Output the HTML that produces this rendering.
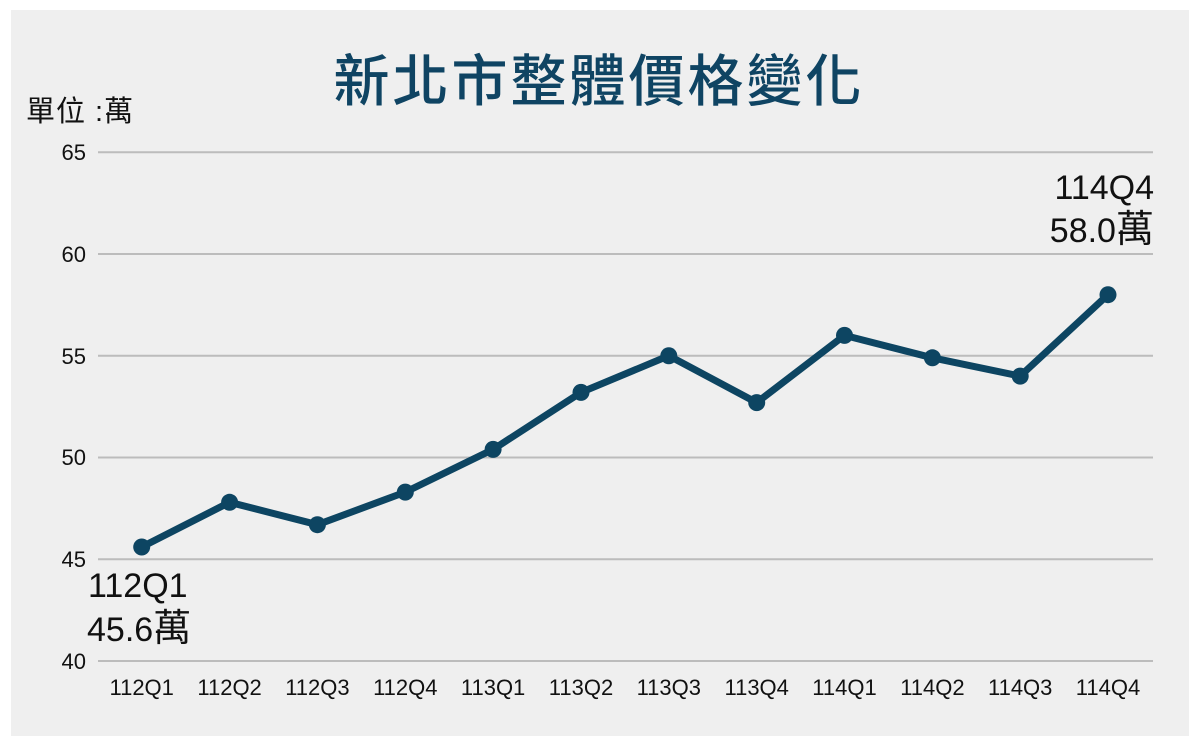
<!DOCTYPE html>
<html><head><meta charset="utf-8"><style>
html,body{margin:0;padding:0;background:#fff;}
svg{display:block;}
text{font-family:"Liberation Sans","Noto Sans CJK TC",sans-serif;fill:#111;}
</style></head><body>
<svg width="1200" height="746" viewBox="0 0 1200 746" xmlns="http://www.w3.org/2000/svg">
<rect x="0" y="0" width="1200" height="746" fill="#ffffff"/>
<rect x="11" y="10" width="1178" height="726" fill="#efefef"/>
<text x="599" y="101" text-anchor="middle" font-size="56" font-weight="500" letter-spacing="3" style="fill:#0f4463;font-family:'Noto Sans CJK TC','Noto Sans CJK SC',sans-serif;">新北市整體價格變化</text>
<text x="26" y="121" font-size="29" letter-spacing="1">單位 :萬</text>
<g stroke="#bcbcbc" stroke-width="2">
<line x1="98" y1="152.25" x2="1153" y2="152.25"/>
<line x1="98" y1="254" x2="1153" y2="254"/>
<line x1="98" y1="355.75" x2="1153" y2="355.75"/>
<line x1="98" y1="457.5" x2="1153" y2="457.5"/>
<line x1="98" y1="559.25" x2="1153" y2="559.25"/>
<line x1="98" y1="661" x2="1153" y2="661"/>
</g>
<g font-size="22" text-anchor="end">
<text x="86" y="160">65</text>
<text x="86" y="262">60</text>
<text x="86" y="364">55</text>
<text x="86" y="465">50</text>
<text x="86" y="567">45</text>
<text x="86" y="669">40</text>
</g>
<g font-size="22" text-anchor="middle">
<text x="141.7" y="695">112Q1</text>
<text x="229.6" y="695">112Q2</text>
<text x="317.4" y="695">112Q3</text>
<text x="405.3" y="695">112Q4</text>
<text x="493.1" y="695">113Q1</text>
<text x="581" y="695">113Q2</text>
<text x="668.8" y="695">113Q3</text>
<text x="756.7" y="695">113Q4</text>
<text x="844.5" y="695">114Q1</text>
<text x="932.4" y="695">114Q2</text>
<text x="1020.2" y="695">114Q3</text>
<text x="1108" y="695">114Q4</text>
</g>
<polyline fill="none" stroke="#0d4562" stroke-width="7" stroke-linejoin="round" points="141.7,547 229.6,502.3 317.4,524.7 405.3,492.1 493.1,449.4 581,392.4 668.8,355.75 756.7,402.6 844.5,335.4 932.4,357.8 1020.2,376.1 1108,294.7"/>
<g fill="#0d4562">
<circle cx="141.7" cy="547" r="8.5"/>
<circle cx="229.6" cy="502.3" r="8.5"/>
<circle cx="317.4" cy="524.7" r="8.5"/>
<circle cx="405.3" cy="492.1" r="8.5"/>
<circle cx="493.1" cy="449.4" r="8.5"/>
<circle cx="581" cy="392.4" r="8.5"/>
<circle cx="668.8" cy="355.75" r="8.5"/>
<circle cx="756.7" cy="402.6" r="8.5"/>
<circle cx="844.5" cy="335.4" r="8.5"/>
<circle cx="932.4" cy="357.8" r="8.5"/>
<circle cx="1020.2" cy="376.1" r="8.5"/>
<circle cx="1108" cy="294.7" r="8.5"/>
</g>
<g font-size="34">
<text x="88" y="597">112Q1</text>
<text x="87" y="641">45.6<tspan font-size="38">萬</tspan></text>
<text x="1154" y="199" text-anchor="end">114Q4</text>
<text x="1154" y="242" text-anchor="end">58.0<tspan font-size="38">萬</tspan></text>
</g>
</svg>
</body></html>
